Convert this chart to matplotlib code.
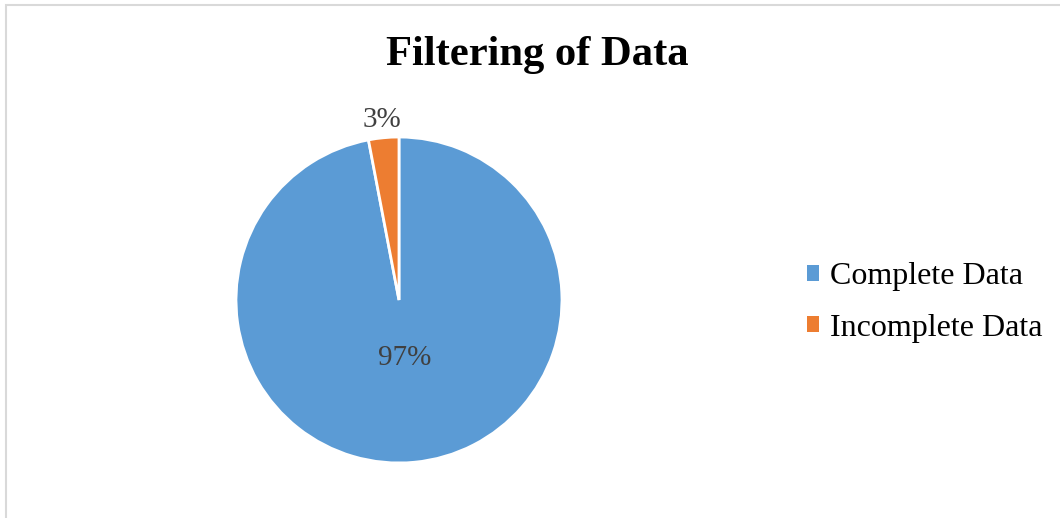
import numpy as np
import matplotlib.pyplot as plt
from matplotlib.patches import Rectangle, Patch

# Chart data
categories = ["Complete Data", "Incomplete Data"]
shares = [97, 3]
colors = ["#5B9BD5", "#ED7D31"]

plt.rcParams["font.family"] = ["Liberation Serif", "DejaVu Serif"]

fig = plt.figure(figsize=(10.6, 5.18), dpi=100)
ax = fig.add_axes([0.1842, 0.0275, 0.3844, 0.7867])

wedges, _ = ax.pie(
    shares,
    colors=colors,
    startangle=90,
    counterclock=False,
    wedgeprops=dict(edgecolor="white", linewidth=2),
)
ax.set_xlim(-1.25, 1.25)
ax.set_ylim(-1.25, 1.25)
ax.set_aspect("equal")

# Percent labels: big slice inside, small slice just outside the rim
dists = [0.36, 1.11]
for w, val, d in zip(wedges, shares, dists):
    ang = np.deg2rad((w.theta1 + w.theta2) / 2)
    ax.text(d * np.cos(ang), d * np.sin(ang), f"{val}%",
            ha="center", va="center", fontsize=21, color="#404040")

fig.suptitle("Filtering of Data", x=0.507, y=0.93, fontsize=30.7,
             fontweight="bold")

# Legend squares without the white wedge edge
handles = [Patch(facecolor=w.get_facecolor(), edgecolor="none") for w in wedges]
fig.legend(handles, categories, loc="center left",
           bbox_to_anchor=(0.7345, 0.416), frameon=False, fontsize=23,
           handlelength=0.38, handleheight=0.38, handletextpad=0.32,
           labelspacing=0.7)

# Light chart-area border (bottom and right edges fall outside the image)
fig.add_artist(Rectangle((6 / 1060, -0.1), 1.2, 1 - 5.5 / 518 + 0.1,
                         transform=fig.transFigure, fill=False,
                         edgecolor="#d9d9d9", linewidth=1.5))

plt.savefig("out.png")
